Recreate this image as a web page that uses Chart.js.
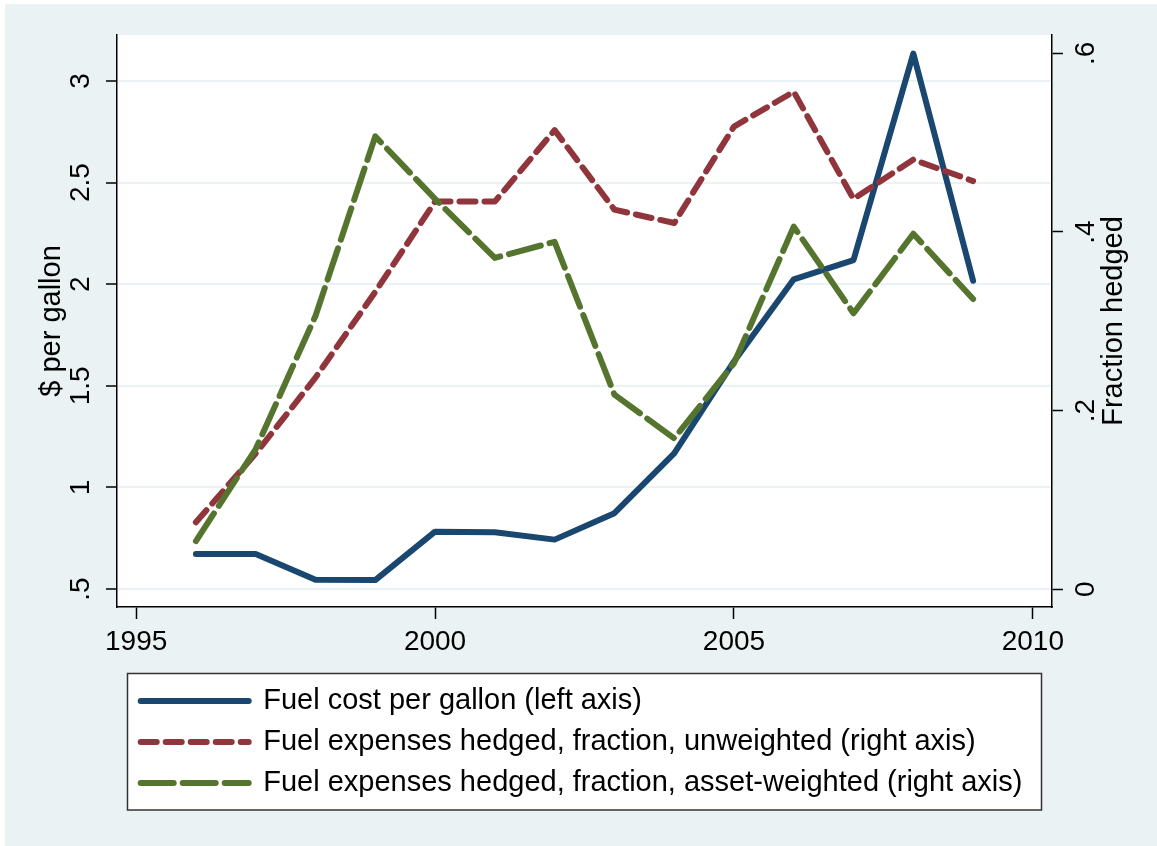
<!DOCTYPE html>
<html>
<head>
<meta charset="utf-8">
<title>Fuel cost and hedging</title>
<script src="https://cdn.jsdelivr.net/npm/chart.js@4.4.1/dist/chart.umd.min.js"></script>
<style>
  html, body { margin: 0; padding: 0; background: #fff; }
  #wrap { width: 1157px; height: 846px; }
</style>
</head>
<body>
<div id="wrap"><canvas id="fuelChart" width="1157" height="846"></canvas></div>
<script>
// data
const years = [1996, 1997, 1998, 1999, 2000, 2001, 2002, 2003, 2004, 2005, 2006, 2007, 2008, 2009];
const fuelCost = [0.672, 0.672, 0.546, 0.544, 0.782, 0.779, 0.743, 0.873, 1.167, 1.62, 2.024, 2.119, 3.135, 2.017];
const hedgedUnweighted = [0.075, 0.152, 0.237, 0.333, 0.434, 0.434, 0.514, 0.425, 0.410, 0.518, 0.557, 0.437, 0.481, 0.457];
const hedgedWeighted = [0.054, 0.157, 0.306, 0.507, 0.437, 0.371, 0.389, 0.218, 0.169, 0.253, 0.406, 0.309, 0.398, 0.325];

const seriesNames = [
    'Fuel cost per gallon (left axis)',
    'Fuel expenses hedged, fraction, unweighted (right axis)',
    'Fuel expenses hedged, fraction, asset-weighted (right axis)'
];

const xTickValues = [1995, 2000, 2005, 2010];
const xTickLabels = ['1995', '2000', '2005', '2010'];
const leftTickValues = [0.5, 1, 1.5, 2, 2.5, 3];
const leftTickLabels = ['.5', '1', '1.5', '2', '2.5', '3'];
const rightTickValues = [0, 0.2, 0.4, 0.6];
const rightTickLabels = ['0', '.2', '.4', '.6'];

const leftAxisTitle = '$ per gallon';
const rightAxisTitle = 'Fraction hedged';

const FONT = '"Liberation Sans", Arial, Helvetica, sans-serif';
Chart.defaults.font.family = FONT;
Chart.defaults.color = '#000';

const points = vals => years.map((yr, i) => ({ x: yr, y: vals[i] }));

// stata-like backdrop: light blue graph region, white plot region, legend frame
const backdrop = {
    id: 'backdrop',
    beforeDraw(chart) {
        const { ctx, width, height, chartArea: a } = chart;
        ctx.save();
        ctx.fillStyle = '#ffffff';
        ctx.fillRect(0, 0, width, height);
        ctx.fillStyle = '#eaf2f3';
        ctx.fillRect(5, 4, width - 5, height - 4);
        ctx.fillStyle = '#ffffff';
        ctx.fillRect(a.left, a.top, a.right - a.left, a.bottom - a.top);
        ctx.fillRect(127.5, 673.5, 914, 136.5);
        ctx.strokeStyle = '#333';
        ctx.lineWidth = 1.5;
        ctx.strokeRect(127.5, 673.5, 914, 136.5);
        ctx.restore();
    }
};

// move the legend rows inside the frame
const legendShift = {
    id: 'legendShift',
    afterLayout(chart) {
        const lg = chart.legend;
        const dx = 128.7 - lg.left;
        lg.left += dx;
        lg.right += dx;
        lg.top += 1.5;
        lg.bottom += 1.5;
    }
};

// right axis title reads bottom to top, like the left one
const rightTitle = {
    id: 'rightTitle',
    afterDraw(chart) {
        const s = chart.scales.y2;
        const ctx = chart.ctx;
        ctx.save();
        ctx.translate(1114, (s.top + s.bottom) / 2);
        ctx.rotate(-Math.PI / 2);
        ctx.font = '29px ' + FONT;
        ctx.fillStyle = '#000';
        ctx.textAlign = 'center';
        ctx.textBaseline = 'middle';
        ctx.fillText(rightAxisTitle, 0, 0);
        ctx.restore();
    }
};

const tickFont = { size: 28 };

new Chart(document.getElementById('fuelChart'), {
    type: 'line',
    data: {
        datasets: [
            {
                label: seriesNames[0],
                data: points(fuelCost),
                yAxisID: 'y',
                borderColor: '#1a476f',
                backgroundColor: '#1a476f',
                borderWidth: 6,
                borderCapStyle: 'round',
                borderJoinStyle: 'round',
                pointRadius: 0,
                pointHoverRadius: 0,
                tension: 0,
                order: 2
            },
            {
                label: seriesNames[1],
                data: points(hedgedUnweighted),
                yAxisID: 'y2',
                borderColor: '#90353b',
                backgroundColor: '#90353b',
                borderWidth: 6,
                borderDash: [16, 9],
                borderCapStyle: 'round',
                borderJoinStyle: 'round',
                pointRadius: 0,
                pointHoverRadius: 0,
                tension: 0,
                order: 1
            },
            {
                label: seriesNames[2],
                data: points(hedgedWeighted),
                yAxisID: 'y2',
                borderColor: '#55752f',
                backgroundColor: '#55752f',
                borderWidth: 6,
                borderDash: [33, 9],
                borderCapStyle: 'round',
                borderJoinStyle: 'round',
                pointRadius: 0,
                pointHoverRadius: 0,
                tension: 0,
                order: 0
            }
        ]
    },
    options: {
        responsive: false,
        animation: false,
        devicePixelRatio: 1,
        layout: { padding: { top: 35, left: 0, right: 0, bottom: 40 } },
        plugins: {
            legend: {
                position: 'bottom',
                align: 'start',
                labels: {
                    usePointStyle: true,
                    pointStyle: 'line',
                    pointStyleWidth: 108,
                    padding: 12,
                    color: '#000',
                    font: { size: 29 },
                    sort: (a, b) => a.datasetIndex - b.datasetIndex,
                    // keep the dash pattern of each line in its legend sample
                    generateLabels: chart => Chart.defaults.plugins.legend.labels.generateLabels(chart).map(item => {
                        const ds = chart.data.datasets[item.datasetIndex];
                        item.lineDash = ds.borderDash || [];
                        item.lineWidth = ds.borderWidth;
                        item.lineCap = ds.borderCapStyle;
                        item.strokeStyle = ds.borderColor;
                        return item;
                    })
                }
            },
            tooltip: { enabled: false }
        },
        scales: {
            x: {
                type: 'linear',
                min: 1994.68,
                max: 2010.32,
                afterBuildTicks: s => { s.ticks = xTickValues.map(v => ({ value: v })); },
                afterFit: s => { s.height = 66; },
                grid: { drawOnChartArea: false, tickLength: 12, tickColor: '#000', tickWidth: 1.5 },
                border: { color: '#000', width: 1.5 },
                ticks: {
                    font: tickFont,
                    color: '#000',
                    padding: 6,
                    autoSkip: false,
                    maxRotation: 0,
                    callback: (v, i) => xTickLabels[i]
                }
            },
            y: {
                type: 'linear',
                position: 'left',
                min: 0.4114,
                max: 3.2264,
                afterBuildTicks: s => { s.ticks = leftTickValues.map(v => ({ value: v })); },
                afterFit: s => { s.width = 117; },
                grid: { color: '#eaf2f3', lineWidth: 2, tickLength: 11, tickColor: '#000', tickWidth: 1.5 },
                border: { color: '#000', width: 1.5 },
                ticks: {
                    font: tickFont,
                    color: '#000',
                    minRotation: 90,
                    maxRotation: 90,
                    crossAlign: 'center',
                    padding: 5,
                    autoSkip: false,
                    callback: (v, i) => leftTickLabels[i]
                },
                title: {
                    display: true,
                    text: leftAxisTitle,
                    color: '#000',
                    font: { size: 29 },
                    padding: { top: 34.6, bottom: 0 }
                }
            },
            y2: {
                type: 'linear',
                position: 'right',
                min: -0.0198,
                max: 0.6205,
                afterBuildTicks: s => { s.ticks = rightTickValues.map(v => ({ value: v })); },
                afterFit: s => { s.width = 105; },
                grid: { drawOnChartArea: false, tickLength: 11, tickColor: '#000', tickWidth: 1.5 },
                border: { color: '#000', width: 1.5 },
                ticks: {
                    font: tickFont,
                    color: '#000',
                    minRotation: 90,
                    maxRotation: 90,
                    crossAlign: 'center',
                    padding: 12,
                    autoSkip: false,
                    callback: (v, i) => rightTickLabels[i]
                }
            }
        }
    },
    plugins: [backdrop, legendShift, rightTitle]
});
</script>
</body>
</html>
